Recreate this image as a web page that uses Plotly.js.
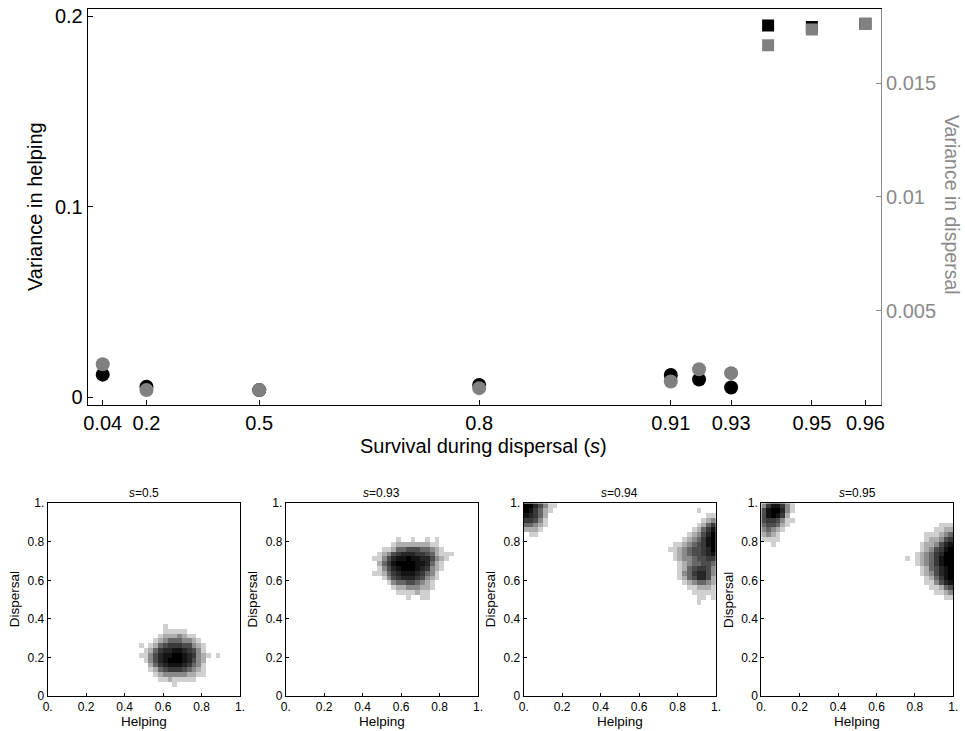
<!DOCTYPE html>
<html><head><meta charset="utf-8">
<script src="https://cdn.plot.ly/plotly-3.0.1.min.js"></script>
<style>html,body{margin:0;padding:0;background:#fff}#chart{width:965px;height:731px}</style>
</head><body><div id="chart"></div>
<script>
// ---- main panel data ----
const survival = [0.04, 0.2, 0.5, 0.8, 0.91, 0.92, 0.93, 0.94, 0.95, 0.96];
const helpingVariance = [0.0119, 0.0056, 0.0038, 0.0065, 0.0117, 0.0094, 0.0052, 0.1951, 0.1942, 0.1960];
const dispersalVariance = [0.00264, 0.00151, 0.00151, 0.00159, 0.00188, 0.00242, 0.00225, 0.01668, 0.01737, 0.01761];
const xTickValues = [0.04, 0.2, 0.5, 0.8, 0.91, 0.93, 0.95, 0.96];
const xTickLabels = ["0.04", "0.2", "0.5", "0.8", "0.91", "0.93", "0.95", "0.96"];
const leftTicks = [0, 0.1, 0.2];
const leftTickLabels = ["0", "0.1", "0.2"];
const rightTicks = [0.005, 0.01, 0.015];
const rightTickLabels = ["0.005", "0.01", "0.015"];

// ---- bottom panels: density read from the point clouds (grid of 0.025, levels 0-9) ----
const panelTitles = ["<i>s</i>=0.5", "<i>s</i>=0.93", "<i>s</i>=0.94", "<i>s</i>=0.95"];
const cloudS050 = [
  {col: 19, top: 14, rows: [
    "00000100000000000",
    "00000111110000000",
    "00001222321100000",
    "00012344433210000",
    "10124566655321000",
    "01246778876531000",
    "11357889987632101",
    "01357899987532000",
    "00246788876431000",
    "00124566654321000",
    "00012333332211000",
    "00001121111100000",
    "00000001000000000"]}
];
const cloudS093 = [
  {col: 18, top: 32, rows: [
    "00000100100101000",
    "00001222222211000",
    "00112445554432100",
    "01235677766542111",
    "11357889887753210",
    "02468999988742100",
    "01357899987632100",
    "11246788876431000",
    "00135677765321000",
    "00013445543210000",
    "00001223332210000",
    "00000111121100000",
    "00000001001100000"]}
];
const cloudS094 = [
  {col: 0, top: 39, rows: [
    "9975311",
    "986421",
    "876420",
    "665310",
    "443210",
    "222100",
    "011000"]},
  {col: 36, top: 38, rows: ["1"]},
  {col: 30, top: 37, rows: [
    "0000000011",
    "0000000123",
    "0000001246",
    "0000012468",
    "0000123579",
    "0001234689",
    "0112345689",
    "1123455679",
    "0123455678",
    "0123345566",
    "0012344554",
    "0012456653",
    "0013467753",
    "0012457752",
    "0001234432",
    "0000112221",
    "0000011111",
    "0000001101",
    "0000001000"]}
];
const cloudS095 = [
  {col: 0, top: 39, rows: [
    "3688631",
    "5899731",
    "5898620",
    "5665311",
    "4554210",
    "3432100",
    "2321000",
    "1111000",
    "0010000"]},
  {col: 30, top: 35, rows: [
    "0000000111",
    "0000001122",
    "0000111234",
    "0000122356",
    "0001223578",
    "0001235689",
    "0012346799",
    "1012346899",
    "0012346899",
    "0001245789",
    "0001235789",
    "0000124689",
    "0000113578",
    "0000011245",
    "0000001123",
    "0000000011"]}
];
const panelTicks = [0, 0.2, 0.4, 0.6, 0.8, 1];
const panelXTickLabels = ["0.", "0.2", "0.4", "0.6", "0.8", "1."];
const panelYTickLabels = ["0", "0.2", "0.4", "0.6", "0.8", "1."];

const FONT = "Liberation Sans, Arial, Helvetica, sans-serif";
const GRAY = "rgb(128,128,128)";
const AXGRAY = "#8a8a8a";
const tr = s => -Math.log(1 - s);

const isSquare = survival.map(s => s > 0.935);
const symbols = isSquare.map(q => q ? "square" : "circle");
const sizes = isSquare.map(q => q ? 12 : 14);

const traces = [
  {type: "scatter", mode: "markers", x: survival.map(tr), y: helpingVariance,
   xaxis: "x", yaxis: "y", marker: {color: "#000", opacity: 1, symbol: symbols, size: sizes, line: {width: 0}},
   hoverinfo: "skip", showlegend: false},
  {type: "scatter", mode: "markers", x: survival.map(tr), y: dispersalVariance,
   xaxis: "x", yaxis: "y2", marker: {color: GRAY, opacity: 1, symbol: symbols, size: sizes, line: {width: 0}},
   hoverinfo: "skip", showlegend: false}
];

function buildGrid(clusters) {
  const z = Array.from({length: 40}, () => Array(40).fill(null));
  clusters.forEach(c => {
    c.rows.forEach((str, k) => {
      const j = c.top - k;
      for (let t = 0; t < str.length; t++) {
        const v = +str[t];
        if (v > 0) z[j][c.col + t] = v;
      }
    });
  });
  return z;
}

const clouds = [cloudS050, cloudS093, cloudS094, cloudS095];
const panelXDomains = [[0.0494, 0.2487], [0.2961, 0.4953], [0.5427, 0.7420], [0.7889, 0.9879]];
const panelYDomain = [0.0479, 0.3115];

const ann = (text, x, y, size, color, angle) => ({text, xref: "paper", yref: "paper", x, y,
  xanchor: "center", yanchor: "middle", textangle: angle || 0, showarrow: false,
  font: {size, family: FONT, color}});

const layout = {
  width: 965, height: 731, margin: {l: 0, r: 0, t: 0, b: 0},
  paper_bgcolor: "#fff", plot_bgcolor: "rgba(0,0,0,0)", showlegend: false,
  font: {family: FONT, color: "#000"},
  xaxis: {domain: [0.0909, 0.913], anchor: "y", range: [-0.0217, 3.284],
    tickvals: xTickValues.map(tr), ticktext: xTickLabels, ticks: "inside", ticklen: 5,
    tickcolor: "#000", showline: true, linecolor: "#000", linewidth: 1, mirror: true,
    showgrid: false, zeroline: false, tickfont: {size: 20, family: FONT}},
  yaxis: {domain: [0.446, 0.9877], anchor: "x", range: [-0.004, 0.2037],
    tickvals: leftTicks, ticktext: leftTickLabels, ticks: "inside", ticklen: 5,
    tickcolor: "#000", showline: true, linecolor: "#000", linewidth: 1,
    showgrid: false, zeroline: false, tickfont: {size: 20, family: FONT}},
  yaxis2: {overlaying: "y", side: "right", anchor: "x", range: [0.00085, 0.01827],
    tickvals: rightTicks, ticktext: rightTickLabels, ticks: "inside", ticklen: 5,
    tickcolor: AXGRAY, showline: true, linecolor: AXGRAY, linewidth: 1,
    showgrid: false, zeroline: false, tickfont: {size: 20, family: FONT, color: AXGRAY}},
  annotations: [
    ann("Survival during dispersal (<i>s</i>)", 484 / 965, 1 - 446 / 731, 20, "#000"),
    ann("Variance in helping", 35 / 965, 1 - 207 / 731, 20, "#000", -90),
    ann("Variance in dispersal", 952 / 965, 1 - 205 / 731, 19.5, AXGRAY, 90)
  ]
};

clouds.forEach((cl, p) => {
  const n = p + 3;
  traces.push({type: "heatmap", z: buildGrid(cl), x0: 0.0125, dx: 0.025, y0: 0.0125, dy: 0.025,
    xaxis: "x" + n, yaxis: "y" + n, zmin: 0, zmax: 9, showscale: false, hoverinfo: "skip",
    colorscale: [[0, "#ffffff"], [0.111, "#d0d0d0"], [0.5, "#555555"], [1, "#000000"]]});
  layout["xaxis" + n] = {domain: panelXDomains[p], anchor: "y" + n, range: [0, 1],
    tickvals: panelTicks, ticktext: panelXTickLabels, ticks: "inside", ticklen: 3,
    tickcolor: "#000", showline: true, linecolor: "#000", linewidth: 1, mirror: true,
    showgrid: false, zeroline: false, tickfont: {size: 12, family: FONT}};
  layout["yaxis" + n] = {domain: panelYDomain, anchor: "x" + n, range: [0, 1],
    tickvals: panelTicks, ticktext: panelYTickLabels, ticks: "inside", ticklen: 3,
    tickcolor: "#000", showline: true, linecolor: "#000", linewidth: 1, mirror: true,
    showgrid: false, zeroline: false, tickfont: {size: 12, family: FONT}};
  const cx = (panelXDomains[p][0] + panelXDomains[p][1]) / 2;
  layout.annotations.push(
    ann(panelTitles[p], cx, 1 - 492.7 / 731, 12, "#000"),
    ann("Helping", cx, 1 - 721.5 / 731, 13.5, "#000"),
    ann("Dispersal", panelXDomains[p][0] - 33 / 965, (panelYDomain[0] + panelYDomain[1]) / 2, 13.5, "#000", -90)
  );
});

Plotly.newPlot("chart", traces, layout, {displayModeBar: false, staticPlot: true});
</script></body></html>
